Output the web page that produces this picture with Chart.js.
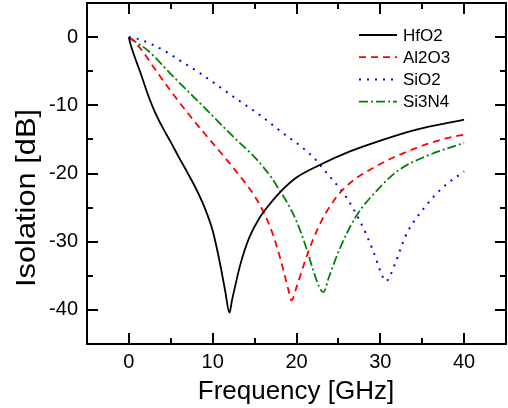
<!DOCTYPE html>
<html>
<head>
<meta charset="utf-8">
<script src="https://cdn.jsdelivr.net/npm/chart.js@4.4.1/dist/chart.umd.min.js"></script>
<style>
  html, body { margin: 0; padding: 0; background: #fff; }
  canvas { display: block; }
</style>
</head>
<body>
<canvas id="isoChart" width="508" height="408"></canvas>
<script>
// ===== DATA =====
const freqHfO2 = [0, 0.1, 0.6, 1.4, 2.2, 3, 4, 5, 6, 7, 8, 9, 10, 10.5, 11, 11.5, 12, 12.3, 12.7, 13.2, 13.8, 14.4, 15.6, 17, 18.4, 20, 22.7, 26.3, 30.2, 34.2, 40];
const isoHfO2  = [0, -0.6, -2.6, -5.3, -8.2, -10.7, -13.2, -15.4, -17.7, -19.9, -22.2, -24.9, -28.4, -31, -34, -37.3, -40.4, -38.6, -36.4, -33.8, -31.3, -29.3, -26.5, -24.2, -22.3, -20.6, -18.8, -16.8, -15.1, -13.6, -12.1];

const freqAl2O3 = [0, 0.5, 1.4, 3, 5, 7, 9, 11, 13, 15, 16, 17, 17.8, 18.5, 19, 19.4, 20, 21, 22, 23, 24, 25, 26, 27, 28, 30, 32, 34, 36, 38, 40];
const isoAl2O3  = [0, -0.5, -1.7, -4.5, -7.9, -11.1, -14.1, -17, -20, -23.3, -25.5, -28.3, -31.3, -34.5, -36.9, -38.6, -36.7, -32.9, -29.6, -26.9, -24.8, -23.1, -21.8, -20.8, -20, -18.6, -17.4, -16.4, -15.5, -14.8, -14.3];

const freqSiO2 = [0, 0.5, 1.4, 2.8, 4.5, 6.3, 8.5, 10.7, 13, 15.6, 18.4, 20.5, 22.3, 23.3, 25.1, 25.9, 27.5, 29.1, 30.1, 30.65, 31.8, 33, 35.4, 37.5, 40];
const isoSiO2  = [0, -0.1, -0.4, -1.1, -2.2, -3.6, -5.3, -7.2, -9.2, -11.4, -14.1, -16, -18, -19.5, -22.1, -23.4, -26.8, -31.2, -34.6, -35.8, -33.1, -29.2, -24.8, -22, -19.7];

const freqSi3N4 = [0, 0.7, 2.2, 5.3, 8.9, 12.45, 15, 16, 17, 18, 19, 20, 21, 22, 22.7, 23.2, 23.9, 25.1, 27.1, 29.9, 32.2, 35.4, 40];
const isoSi3N4  = [0, -0.6, -1.9, -5.8, -10.2, -14.6, -17.6, -19, -20.6, -22.5, -24.5, -27, -30.3, -34.2, -36.6, -37.4, -35.1, -31.2, -26.3, -22.1, -19.5, -17.5, -15.5];

const xTicks = [0, 10, 20, 30, 40];
const xMinor = [5, 15, 25, 35];
const yTicks = [-40, -30, -20, -10, 0];
const yMinor = [-35, -25, -15, -5];

const FONT = '"Liberation Sans", Arial, sans-serif';

function pts(xs, ys) {
  return xs.map((x, i) => ({ x: x, y: ys[i] }));
}

function noPad(s) {
  s.paddingLeft = 0; s.paddingRight = 0;
  s.paddingTop = 0; s.paddingBottom = 0;
}

// frame, inward ticks on all four sides, axis titles and legend
const framePlugin = {
  id: 'frame',
  afterDraw(chart) {
    const ctx = chart.ctx;
    const a = chart.chartArea;
    const sx = chart.scales.x, sy = chart.scales.y;
    ctx.save();
    ctx.strokeStyle = '#000';
    ctx.lineWidth = 2;
    ctx.strokeRect(a.left, a.top, a.right - a.left, a.bottom - a.top);

    ctx.beginPath();
    const tickX = (v, len) => {
      const p = Math.round(sx.getPixelForValue(v));
      ctx.moveTo(p, a.bottom); ctx.lineTo(p, a.bottom - len);
      ctx.moveTo(p, a.top); ctx.lineTo(p, a.top + len);
    };
    const tickY = (v, len) => {
      const p = Math.round(sy.getPixelForValue(v));
      ctx.moveTo(a.left, p); ctx.lineTo(a.left + len, p);
      ctx.moveTo(a.right, p); ctx.lineTo(a.right - len, p);
    };
    xTicks.forEach(v => tickX(v, 11));
    xMinor.forEach(v => tickX(v, 6));
    yTicks.forEach(v => tickY(v, 11));
    yMinor.forEach(v => tickY(v, 6));
    ctx.stroke();

    // axis titles
    ctx.fillStyle = '#000';
    ctx.font = '26px ' + FONT;
    ctx.textAlign = 'center';
    ctx.textBaseline = 'alphabetic';
    ctx.fillText('Frequency [GHz]', 296, 399);

    ctx.save();
    ctx.translate(35, 198);
    ctx.rotate(-Math.PI / 2);
    ctx.scale(1.1, 1);
    ctx.font = '28px ' + FONT;
    ctx.fillText('Isolation [dB]', 0, 0);
    ctx.restore();

    // legend
    ctx.font = '17px ' + FONT;
    ctx.textAlign = 'left';
    ctx.textBaseline = 'middle';
    chart.data.datasets.forEach((ds, i) => {
      const y = a.top + 32 + i * 22.2;
      ctx.beginPath();
      ctx.strokeStyle = ds.borderColor;
      ctx.lineWidth = ds.borderWidth;
      ctx.setLineDash(ds.borderDash || []);
      ctx.moveTo(a.right - 147, y);
      ctx.lineTo(a.right - 109, y);
      ctx.stroke();
      ctx.setLineDash([]);
      ctx.fillText(ds.label, a.right - 103, y + 1);
    });
    ctx.restore();
  }
};

const chart = new Chart(document.getElementById('isoChart'), {
  type: 'line',
  data: {
    datasets: [
      { label: 'HfO2', data: pts(freqHfO2, isoHfO2), borderColor: '#000000', borderWidth: 1.8 },
      { label: 'Al2O3', data: pts(freqAl2O3, isoAl2O3), borderColor: '#ff0000', borderWidth: 1.8, borderDash: [7, 5] },
      { label: 'SiO2', data: pts(freqSiO2, isoSiO2), borderColor: '#0000ff', borderWidth: 2, borderDash: [2, 6] },
      { label: 'Si3N4', data: pts(freqSi3N4, isoSi3N4), borderColor: '#008000', borderWidth: 1.8, borderDash: [9, 3, 2, 3] }
    ]
  },
  options: {
    responsive: false,
    animation: false,
    devicePixelRatio: 1,
    layout: { padding: { top: 3, right: 2, left: 0, bottom: 0 } },
    elements: {
      point: { radius: 0 },
      line: { tension: 0.4, cubicInterpolationMode: 'monotone', fill: false }
    },
    plugins: {
      legend: { display: false },
      tooltip: { enabled: false }
    },
    scales: {
      x: {
        type: 'linear',
        min: -5,
        max: 45,
        grid: { display: false, drawTicks: false },
        border: { display: false },
        afterBuildTicks: s => { s.ticks = xTicks.map(v => ({ value: v })); },
        afterFit: s => { s.height = 64; noPad(s); },
        ticks: { color: '#000', font: { family: FONT, size: 20 }, padding: 6, maxRotation: 0 }
      },
      y: {
        type: 'linear',
        min: -45,
        max: 5,
        grid: { display: false, drawTicks: false },
        border: { display: false },
        afterBuildTicks: s => { s.ticks = yTicks.map(v => ({ value: v })); },
        afterFit: s => { s.width = 87; noPad(s); },
        ticks: { color: '#000', font: { family: FONT, size: 20 }, padding: 9 }
      }
    }
  },
  plugins: [framePlugin]
});
</script>
</body>
</html>
